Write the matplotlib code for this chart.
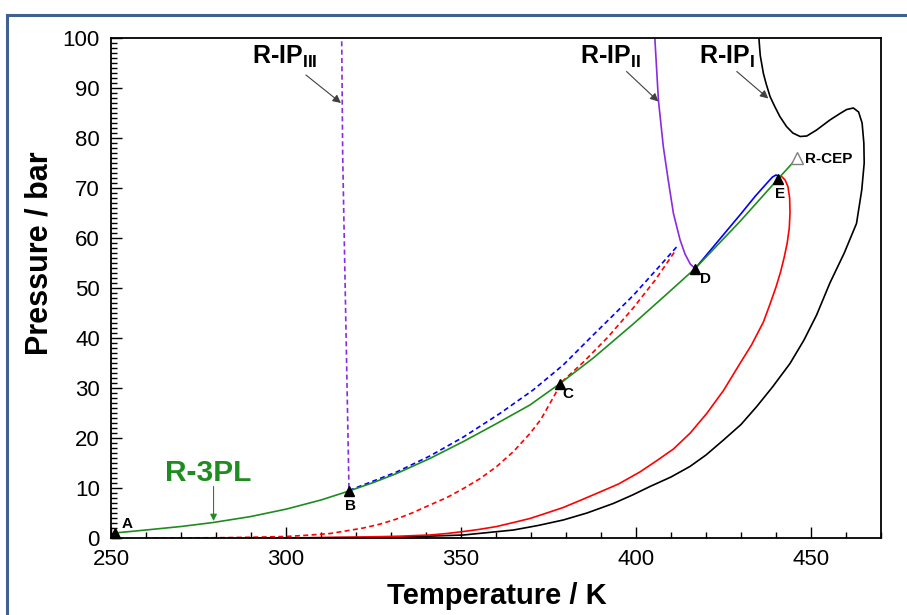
import matplotlib
matplotlib.use('Agg')
import matplotlib.pyplot as plt
from matplotlib.patches import Rectangle
from matplotlib.ticker import MultipleLocator

plt.rcParams['font.family'] = ['Liberation Sans', 'DejaVu Sans']
plt.rcParams['mathtext.fontset'] = 'custom'
plt.rcParams['mathtext.rm'] = 'Liberation Sans'
plt.rcParams['mathtext.bf'] = 'Liberation Sans:bold'

# ---------------- data ----------------
# R-3PL (green, three-phase line)
T_3pl = [251.0, 260.0, 270.0, 279.2, 290.0, 300.2, 310.0, 318.0, 325.0, 331.6, 341.1,
         350.7, 360.2, 369.7, 378.3, 387.8, 399.2, 406.9, 416.9, 429.7, 440.7, 445.5]
P_3pl = [1.0, 1.6, 2.3, 3.1, 4.3, 5.8, 7.6, 9.4, 11.1, 12.9, 15.9,
         19.3, 22.9, 26.6, 30.9, 36.0, 42.8, 47.6, 53.9, 63.3, 71.9, 75.6]

# blue dashed branch starting at B
T_bdash = [318.0, 331.6, 341.1, 350.7, 361.1, 370.6, 379.2, 386.9, 399.2, 406.0, 412.1]
P_bdash = [9.5, 13.2, 16.4, 20.2, 24.9, 29.6, 34.6, 40.0, 48.5, 53.8, 58.6]

# red dashed branch
T_rdash = [259.7, 280.0, 290.0, 300.0, 306.0, 312.6, 317.0, 322.1, 327.0, 331.6, 336.0,
           341.1, 346.0, 350.7, 355.5, 360.2, 365.0, 369.7, 372.8, 375.4, 377.0, 378.3,
           385.0, 392.0, 399.2, 405.5, 411.1]
P_rdash = [0.0, 0.05, 0.15, 0.3, 0.55, 0.9, 1.4, 2.0, 2.8, 3.8, 5.0,
           6.6, 8.1, 9.9, 11.9, 14.3, 17.3, 20.9, 23.7, 26.9, 28.9, 30.9,
           35.2, 40.2, 46.0, 51.6, 57.3]

# red solid
T_rsol = [290.0, 305.0, 322.0, 332.0, 341.1, 346.0, 350.7, 355.0, 360.2, 365.0, 369.7,
          374.5, 379.2, 384.0, 388.7, 395.0, 401.1, 406.0, 410.7, 415.5, 420.2, 425.0,
          429.7, 433.0, 436.4, 438.3, 440.0, 441.3, 442.3, 443.2, 443.8, 444.0, 443.9,
          443.4, 442.6, 441.6, 440.6]
P_rsol = [0.0, 0.05, 0.2, 0.35, 0.6, 0.9, 1.3, 1.7, 2.3, 3.1, 3.9,
          5.0, 6.1, 7.5, 8.9, 10.8, 13.2, 15.5, 17.8, 21.0, 24.9, 29.5,
          34.9, 38.6, 43.2, 46.8, 50.2, 53.2, 56.0, 59.0, 62.0, 65.0, 68.0,
          70.3, 71.6, 72.3, 72.4]

# blue solid (D -> E)
T_bsol = [416.9, 423.0, 429.7, 434.0, 437.3, 439.0, 440.0, 440.6]
P_bsol = [53.9, 59.0, 64.6, 68.3, 70.9, 72.2, 72.6, 72.4]

# black R-IP_I
T_ip1 = [300.0, 320.0, 336.0, 350.7, 365.0, 372.0, 379.2, 386.0, 393.5, 399.0, 404.0,
         410.0, 415.4, 420.0, 425.0, 430.0, 434.5, 439.0, 444.0, 448.0, 451.6, 455.4,
         459.5, 463.0, 464.5, 465.2, 465.1, 464.6, 463.6, 462.1, 460.2, 458.3, 455.4,
         451.6, 448.8, 446.9, 444.8, 443.0, 441.1, 439.5, 438.3, 437.2, 436.4, 435.5,
         435.0]
P_ip1 = [0.0, 0.1, 0.25, 0.6, 1.6, 2.5, 3.6, 5.0, 6.9, 8.6, 10.3,
         12.2, 14.3, 16.6, 19.6, 22.7, 26.3, 30.2, 34.9, 39.6, 44.6, 51.0,
         57.0, 62.9, 69.6, 75.0, 79.0, 83.0, 85.2, 86.0, 85.7, 84.9, 83.6,
         81.6, 80.4, 80.3, 81.0, 82.3, 84.3, 86.5, 88.3, 90.8, 92.9, 96.5,
         101.0]

# purple solid R-IP_II
T_ip2 = [405.3, 406.4, 407.8, 409.2, 410.7, 412.6, 414.0, 415.5, 416.9]
P_ip2 = [101.0, 87.6, 78.3, 71.6, 64.9, 59.6, 56.8, 54.8, 53.9]

# purple dashed R-IP_III
T_ip3 = [315.9, 316.2, 317.3, 318.0]
P_ip3 = [101.0, 76.3, 35.6, 9.5]

# special points
pt_labels = ['A', 'B', 'C', 'D', 'E']
pt_T = [251.0, 318.0, 378.3, 416.9, 440.7]
pt_P = [1.0, 9.4, 30.9, 53.9, 71.9]
cep_T, cep_P = 445.9, 76.0

x_ticks = [250, 300, 350, 400, 450]
y_ticks = [0, 10, 20, 30, 40, 50, 60, 70, 80, 90, 100]

# ---------------- figure ----------------
W, H = 907, 615
fig = plt.figure(figsize=(W / 100, H / 100), dpi=100)
ax = fig.add_axes([111 / W, 1 - 538 / H, 770 / W, 500 / H])

# outer frame
fig.add_artist(Rectangle((7 / W, -0.1), 1.2, 1 - 14.5 / H + 0.1, transform=fig.transFigure,
                         fill=False, edgecolor='#3f6190', lw=2.2, clip_on=False))

lw = 1.2
purple = '#8a2be2'
green = '#1f8c1f'
ax.plot(T_ip1, P_ip1, color='black', lw=lw)
ax.plot(T_rsol, P_rsol, color='#ff0000', lw=lw)
ax.plot(T_rdash, P_rdash, color='#ff0000', lw=lw, ls=(0, (3, 2)))
ax.plot(T_bdash, P_bdash, color='#0000ff', lw=lw, ls=(0, (3, 2)))
ax.plot(T_bsol, P_bsol, color='#0000ff', lw=lw)
ax.plot(T_ip2, P_ip2, color=purple, lw=lw)
ax.plot(T_ip3, P_ip3, color=purple, lw=lw, ls=(0, (3, 2)))
ax.plot(T_3pl, P_3pl, color=green, lw=lw)

ax.plot(pt_T, pt_P, ls='none', marker='^', color='black', ms=7, clip_on=False, zorder=5)
ax.plot([cep_T], [cep_P], ls='none', marker='^', mfc='white', mec='#808080', ms=9, mew=1.0, zorder=5)

ax.set_xlim(250, 470)
ax.set_ylim(0, 100)
ax.set_xticks(x_ticks)
ax.set_yticks(y_ticks)
ax.xaxis.set_minor_locator(MultipleLocator(10))
ax.yaxis.set_minor_locator(MultipleLocator(1))
ax.tick_params(which='both', direction='in', top=False, right=False, labelsize=16, width=1.0)
ax.tick_params(which='major', length=8)
ax.tick_params(axis='x', which='major', pad=8)
ax.tick_params(axis='y', which='major', pad=8)
ax.tick_params(which='minor', length=4)
for s in ax.spines.values():
    s.set_linewidth(1.3)

fig.text(40 / W, 1 - 253 / H, 'Pressure / bar', rotation=90, ha='center', va='center',
         fontsize=22, fontweight='bold')
fig.text(497 / W, 1 - 596 / H, 'Temperature / K', ha='center', va='center',
         fontsize=21, fontweight='bold')

# point labels
lab_pos = {'A': (252.9, 2.0), 'B': (316.9, 5.6), 'C': (379.1, 28.0),
           'D': (418.3, 51.0), 'E': (439.7, 68.0)}
for lab in pt_labels:
    x, y = lab_pos[lab]
    ax.text(x, y, lab, fontsize=11, fontweight='bold', va='baseline', ha='left')
ax.text(448.3, 75.0, 'R-CEP', fontsize=11, fontweight='bold', va='baseline', ha='left')

arrow_kw = dict(arrowstyle='-|>', color='#404040', lw=0.8, mutation_scale=12,
                shrinkA=0, shrinkB=0)
ax.annotate('', xy=(315.7, 87.0), xytext=(305.7, 92.6), arrowprops=arrow_kw)
ax.annotate('', xy=(406.4, 87.3), xytext=(397.3, 93.3), arrowprops=arrow_kw)
ax.annotate('', xy=(437.8, 87.9), xytext=(428.8, 93.3), arrowprops=arrow_kw)
ax.annotate('', xy=(279.3, 3.4), xytext=(279.3, 10.3),
            arrowprops=dict(arrowstyle='-|>', color=green, lw=0.8, mutation_scale=10,
                            shrinkA=0, shrinkB=0))

ax.text(290.3, 94.8, r'R-IP$_{\mathbf{III}}$', fontsize=18, fontweight='bold', va='baseline')
ax.text(384.0, 94.8, r'R-IP$_{\mathbf{II}}$', fontsize=18, fontweight='bold', va='baseline')
ax.text(418.0, 94.8, r'R-IP$_{\mathbf{I}}$', fontsize=18, fontweight='bold', va='baseline')
ax.text(265.4, 11.4, 'R-3PL', fontsize=21.5, fontweight='bold', color=green, va='baseline')

fig.savefig('out.png', dpi=100)
